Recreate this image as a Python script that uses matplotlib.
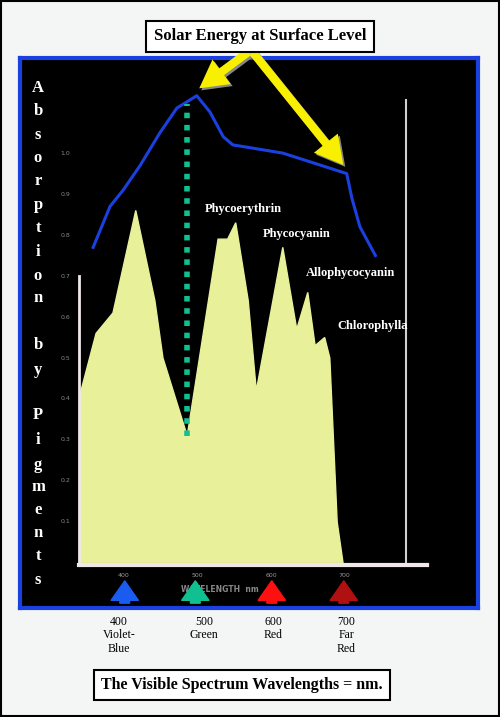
import matplotlib
matplotlib.use("Agg")
import matplotlib.pyplot as plt
from matplotlib.patches import Rectangle

# ---- data ----
absorb_wl = [340, 340, 362, 385, 416, 442, 453, 486, 528, 541, 552, 569, 580, 616, 635, 650, 660, 673, 680, 690, 698]
absorb_val = [0.0, 0.41, 0.56, 0.61, 0.86, 0.64, 0.50, 0.31, 0.79, 0.79, 0.83, 0.64, 0.42, 0.77, 0.57, 0.66, 0.53, 0.55, 0.50, 0.10, 0.0]
solar_wl = [358, 381, 399, 422, 449, 472, 499, 517, 535, 548, 616, 703, 710, 721, 742]
solar_val = [0.77, 0.87, 0.91, 0.97, 1.05, 1.11, 1.14, 1.10, 1.04, 1.02, 1.00, 0.95, 0.89, 0.82, 0.75]
green_min_wl = 486
green_line = [0.31, 1.12]
ytick_vals = [0.1, 0.2, 0.3, 0.4, 0.5, 0.6, 0.7, 0.8, 0.9, 1.0]
xtick_wl = [400, 500, 600, 700]
arrow_wl = [401, 497, 601, 699]
arrow_colors = ["#1a5cf0", "#10c090", "#ff1010", "#b01010"]
band_labels = ["400\nViolet-\nBlue", "500\nGreen", "600\nRed", "700\nFar\nRed"]
band_x = [119, 204, 273, 346]
pigments = ["Phycoerythrin", "Phycocyanin", "Allophycocyanin", "Chlorophylla"]
pigment_pos = [(205, 209), (263, 234), (306, 273), (337, 326)]

serif = "Liberation Serif"
fig = plt.figure(figsize=(5, 7.17), dpi=100)
fig.patch.set_facecolor("#f4f6f6")
fig.add_artist(Rectangle((0.002, 0.002), 0.996, 0.996, transform=fig.transFigure,
                         fill=False, ec="black", lw=1.5))

# panel axes: pixel x 20..478, y 58..608
ax = fig.add_axes([20/500, (717-608)/717, 458/500, 550/717])
ax.set_facecolor("black")
ax.set_xlim(258.5, 881.6)
ax.set_ylim(-0.11, 1.232)
ax.set_xticks([]); ax.set_yticks([])
for s in ax.spines.values():
    s.set_color("#1a40e0"); s.set_linewidth(3)

ax.fill(absorb_wl, absorb_val, color="#e8f09a", zorder=2)
ax.plot(solar_wl, solar_val, color="#1a40e0", lw=2.2, zorder=4)
ax.plot([green_min_wl, green_min_wl], green_line, color="#10c090", lw=4,
        linestyle=(0, (1, 1.2)), zorder=5)

# white axes lines
ax.plot([339, 339], [-0.005, 0.70], color="#f0e8e8", lw=2, zorder=3)
ax.plot([339, 812], [-0.005, -0.005], color="#f0e8e8", lw=3, zorder=3)
ax.plot([784, 784], [0, 1.13], color="#d0d0d0", lw=1.5, zorder=1)
for v in ytick_vals:
    ax.text(320, v, f"{v:.1f}", color="#888888", fontsize=4.5, ha="center", va="center")
for w in xtick_wl:
    ax.text(w, -0.03, str(w), color="#999999", fontsize=4.5, ha="center", va="center")
ax.text(530, -0.065, "WAVELENGTH  nm", color="#888888", fontsize=5.5, ha="center",
        va="center", fontweight="bold")

for w, c in zip(arrow_wl, arrow_colors):
    ax.annotate("", xy=(w, -0.037), xytext=(w, -0.105),
                arrowprops=dict(arrowstyle="simple,head_width=1.4,head_length=1.0,tail_width=0.5",
                                fc=c, ec=c, mutation_scale=14), zorder=6)

def fp(x, y):
    return x/500, 1 - y/717

for name, (x, y) in zip(pigments, pigment_pos):
    fig.text(*fp(x, y), name, color="white", fontsize=9, fontweight="bold",
             family=serif, va="center", ha="left")

letters = list("Absorption") + [""] + list("by") + [""] + list("Pigments")
ys = [88, 111, 135, 158, 181, 205, 228, 252, 276, 298, None, 345, 370, None,
      415, 440, 465, 487, 510, 533, 556, 580]
for ch, y in zip(letters, ys):
    if y is not None:
        fig.text(*fp(38, y), ch, color="white", fontsize=12, fontweight="bold",
                 family=serif, ha="center", va="center")

fig.text(*fp(260, 36), "Solar Energy at Surface Level", fontsize=12, fontweight="bold",
         family=serif, ha="center", va="center",
         bbox=dict(boxstyle="square,pad=0.45", fc="white", ec="black", lw=1.5))
fig.text(*fp(242, 685), "The Visible Spectrum Wavelengths = nm.", fontsize=11.5,
         fontweight="bold", family=serif, ha="center", va="center",
         bbox=dict(boxstyle="square,pad=0.45", fc="white", ec="black", lw=1.5))

for lab, x in zip(band_labels, band_x):
    fig.text(*fp(x, 616), lab, fontsize=8.5, family=serif, ha="center", va="top",
             linespacing=1.15)

for tip in [(197, 90), (345, 167)]:
    fig.add_artist(matplotlib.patches.FancyArrowPatch(
        (251 + 2, 717 - 50 - 2), (tip[0] + 2, 717 - tip[1] - 2),
        arrowstyle="simple,head_width=2.2,head_length=2.0,tail_width=0.6",
        mutation_scale=10, fc="#888888", ec="none", transform=None))
    fig.add_artist(matplotlib.patches.FancyArrowPatch(
        (251, 717 - 50), (tip[0], 717 - tip[1]),
        arrowstyle="simple,head_width=2.2,head_length=2.0,tail_width=0.6",
        mutation_scale=10, fc="#f8f000", ec="none", transform=None))

fig.savefig("out.png", dpi=100, facecolor=fig.get_facecolor())
